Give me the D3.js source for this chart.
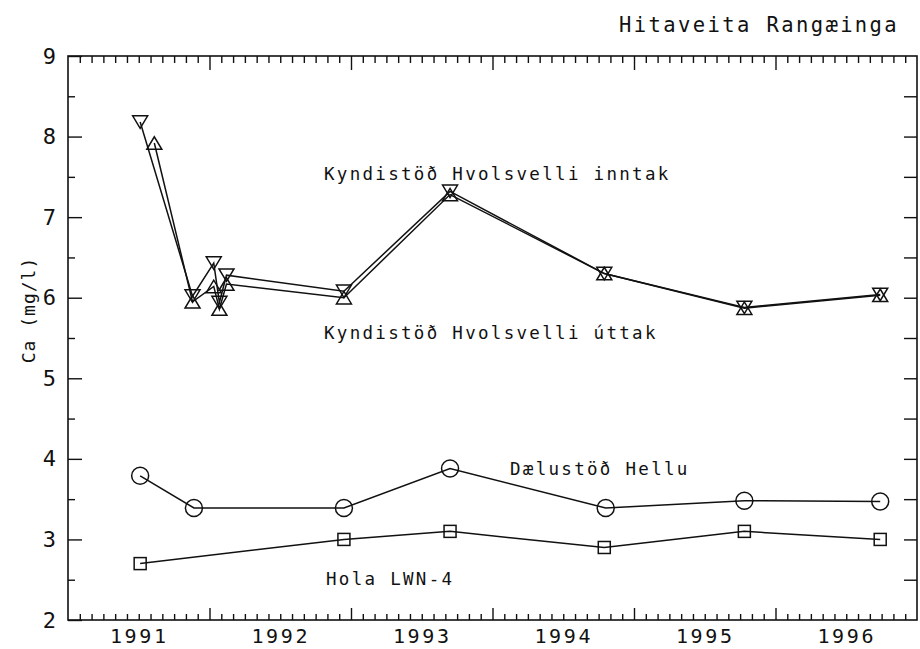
<!DOCTYPE html>
<html>
<head>
<meta charset="utf-8">
<script src="https://cdn.jsdelivr.net/npm/d3@7/dist/d3.min.js"></script>
<style>
  html, body { margin: 0; padding: 0; background: #fff; }
  svg { display: block; }
  text { font-family: "DejaVu Sans Mono", monospace; fill: #111; }
</style>
</head>
<body>
<svg id="chart" width="920" height="649"></svg>
<script>
// Calcium (Ca, mg/l) in the Rangæinga district heating water, 1991–1996.
// Dates are decimal years.
const yearLabels = ["1991", "1992", "1993", "1994", "1995", "1996"];
const yTickValues = [2, 3, 4, 5, 6, 7, 8, 9];

const inntakDates = [1991.51, 1991.88, 1992.03, 1992.07, 1992.12, 1992.95, 1993.70, 1994.79, 1995.78, 1996.74];
const inntakCa    = [8.18,    6.02,    6.43,    5.94,    6.28,    6.08,    7.32,    6.30,    5.88,    6.04];

const uttakDates  = [1991.61, 1991.88, 1992.03, 1992.07, 1992.12, 1992.95, 1993.70, 1994.79, 1995.78, 1996.74];
const uttakCa     = [7.92,    5.95,    6.14,    5.86,    6.17,    6.00,    7.28,    6.30,    5.87,    6.03];

const helluDates  = [1991.51, 1991.89, 1992.95, 1993.70, 1994.80, 1995.78, 1996.74];
const helluCa     = [3.79,    3.39,    3.39,    3.88,    3.39,    3.48,    3.47];

const holaDates   = [1991.51, 1992.95, 1993.70, 1994.79, 1995.78, 1996.74];
const holaCa      = [2.70,    3.00,    3.10,    2.90,    3.10,    3.00];

const seriesNames = {
  inntak: "Kyndistöð Hvolsvelli inntak",
  uttak: "Kyndistöð Hvolsvelli úttak",
  hellu: "Dælustöð Hellu",
  hola: "Hola LWN-4"
};
const titleText = "Hitaveita Rangæinga";
const yLabelText = "Ca  (mg/l)";

const svg = d3.select("#chart");
const plotLeft = 68, plotRight = 917, plotTop = 56, plotBottom = 620;

const x = d3.scaleLinear().domain([1991, 1997]).range([plotLeft, plotRight]);
const y = d3.scaleLinear().domain([2, 9]).range([plotBottom, plotTop]);

const majorX = d3.range(1992, 1997);
const minorX = d3.range(1, 72).map(i => 1991 + i / 12).filter(v => Math.abs(v - Math.round(v)) > 1e-6);
const majorY = yTickValues;
const minorY = d3.range(2.5, 9, 1);

function styleAxis(g) {
  g.select(".domain").remove();
  g.selectAll(".tick line").attr("stroke", "#111").attr("stroke-width", 1.4);
}

// bottom ticks (inward)
svg.append("g").attr("transform", `translate(0,${plotBottom})`)
  .call(d3.axisBottom(x).tickValues(minorX).tickSizeInner(-6).tickFormat(""))
  .call(styleAxis);
svg.append("g").attr("transform", `translate(0,${plotBottom})`)
  .call(d3.axisBottom(x).tickValues(majorX).tickSizeInner(-12).tickFormat(""))
  .call(styleAxis);
// year labels centred in each year
svg.append("g").attr("transform", `translate(0,${plotBottom})`)
  .call(d3.axisBottom(x).tickValues(yearLabels.map(d => +d + 0.5)).tickSize(0).tickPadding(9)
    .tickFormat((d, i) => yearLabels[i]))
  .call(g => g.select(".domain").remove())
  .selectAll("text")
  .attr("font-size", 20).attr("letter-spacing", 2.6).attr("dy", "0.72em")
  .style("font-family", "DejaVu Sans Mono, monospace").attr("fill", "#111");

// top ticks (inward)
svg.append("g").attr("transform", `translate(0,${plotTop})`)
  .call(d3.axisTop(x).tickValues(minorX).tickSizeInner(-7).tickFormat(""))
  .call(styleAxis);
svg.append("g").attr("transform", `translate(0,${plotTop})`)
  .call(d3.axisTop(x).tickValues(majorX).tickSizeInner(-14).tickFormat(""))
  .call(styleAxis);

// left axis
svg.append("g").attr("transform", `translate(${plotLeft},0)`)
  .call(d3.axisLeft(y).tickValues(minorY).tickSizeInner(-7).tickFormat(""))
  .call(styleAxis);
svg.append("g").attr("transform", `translate(${plotLeft},0)`)
  .call(d3.axisLeft(y).tickValues(majorY).tickSizeInner(-14).tickPadding(12).tickFormat(d3.format("d")))
  .call(styleAxis)
  .selectAll("text")
  .attr("font-size", 22).attr("fill", "#111")
  .style("font-family", "DejaVu Sans Mono, monospace");

// right axis
svg.append("g").attr("transform", `translate(${plotRight},0)`)
  .call(d3.axisRight(y).tickValues(d3.range(2.5, 9, 0.5)).tickSizeInner(-13).tickFormat(""))
  .call(styleAxis);

// frame
svg.append("rect")
  .attr("x", plotLeft).attr("y", plotTop)
  .attr("width", plotRight - plotLeft).attr("height", plotBottom - plotTop)
  .attr("fill", "none").attr("stroke", "#111").attr("stroke-width", 1.6);

const line = d3.line().x(d => x(d[0])).y(d => y(d[1]));
const zip = (a, b) => a.map((d, i) => [d, b[i]]);

const inntak = zip(inntakDates, inntakCa);
const uttak = zip(uttakDates, uttakCa);
const hellu = zip(helluDates, helluCa);
const hola = zip(holaDates, holaCa);

const plot = svg.append("g");
[inntak, uttak, hellu, hola].forEach(pts => {
  plot.append("path").datum(pts)
    .attr("d", line)
    .attr("fill", "none").attr("stroke", "#111").attr("stroke-width", 1.5);
});

// markers
const triW = 15, triH = 12.5;
const downTri = `M${-triW/2},${-triH/2}L${triW/2},${-triH/2}L0,${triH/2}Z`;
const upTri = `M${-triW/2},${triH/2}L${triW/2},${triH/2}L0,${-triH/2}Z`;

function markers(pts, cls, draw) {
  const g = plot.append("g").attr("class", cls);
  const sel = g.selectAll("g").data(pts).join("g")
    .attr("transform", d => `translate(${x(d[0])},${y(d[1])})`);
  draw(sel);
}
markers(inntak, "inntak", s => s.append("path").attr("d", downTri)
  .attr("fill", "none").attr("stroke", "#111").attr("stroke-width", 1.5));
markers(uttak, "uttak", s => s.append("path").attr("d", upTri)
  .attr("fill", "none").attr("stroke", "#111").attr("stroke-width", 1.5));
markers(hellu, "hellu", s => s.append("circle").attr("r", 8.5)
  .attr("fill", "none").attr("stroke", "#111").attr("stroke-width", 1.5));
markers(hola, "hola", s => s.append("rect")
  .attr("x", -6).attr("y", -6).attr("width", 12).attr("height", 12)
  .attr("fill", "none").attr("stroke", "#111").attr("stroke-width", 1.5));

// series labels
const labelStyle = sel => sel.attr("font-size", 17.5).attr("letter-spacing", 2.3);
svg.append("text").attr("x", 324).attr("y", 180).text(seriesNames.inntak).call(labelStyle);
svg.append("text").attr("x", 324).attr("y", 339).text(seriesNames.uttak).call(labelStyle);
svg.append("text").attr("x", 510).attr("y", 475).text(seriesNames.hellu).call(labelStyle);
svg.append("text").attr("x", 326).attr("y", 585).text(seriesNames.hola).call(labelStyle);

// title
svg.append("text").attr("x", 619).attr("y", 32)
  .attr("font-size", 20.5).attr("letter-spacing", 2.4).text(titleText);

// y-axis title
svg.append("text")
  .attr("transform", "translate(35,310) rotate(-90)")
  .attr("text-anchor", "middle")
  .attr("font-size", 18).attr("letter-spacing", 1)
  .text(yLabelText);
</script>
</body>
</html>
